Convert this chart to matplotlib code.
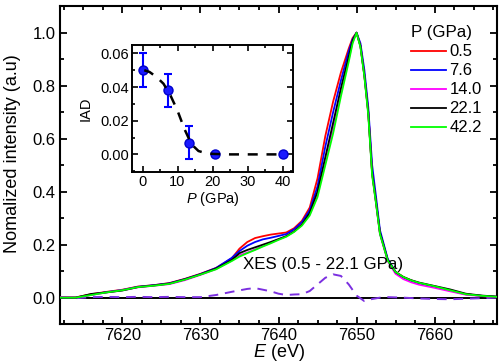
import matplotlib
matplotlib.use("Agg")
import matplotlib.pyplot as plt
from matplotlib.ticker import MultipleLocator, FormatStrFormatter

plt.rcParams['font.family'] = ['Liberation Sans', 'DejaVu Sans']
plt.rcParams['mathtext.fontset'] = 'custom'
plt.rcParams['mathtext.it'] = 'Liberation Sans:italic'
plt.rcParams['mathtext.rm'] = 'Liberation Sans'

# ---------------- data ----------------
energy = [7612, 7614, 7616, 7618, 7620, 7622, 7624, 7626, 7628, 7630, 7632, 7634,
          7635, 7636, 7637, 7638, 7639, 7640, 7641, 7642, 7643,
          7644, 7645, 7646, 7647, 7648, 7649, 7649.5, 7650,
          7650.5, 7651, 7651.5, 7652, 7652.5, 7653, 7654, 7655, 7656, 7657, 7658,
          7660, 7662, 7664, 7666, 7668]

pressures = ["0.5", "7.6", "14.0", "22.1", "42.2"]
colors = ["#ff0000", "#0000ff", "#ff00ff", "#000000", "#00ff00"]

int_05 = [0.000, 0.001, 0.013, 0.022, 0.030, 0.042, 0.047, 0.055, 0.071, 0.090, 0.112, 0.148,
          0.185, 0.210, 0.225, 0.232, 0.238, 0.242, 0.246, 0.262, 0.290,
          0.340, 0.450, 0.610, 0.740, 0.850, 0.940, 0.980, 1.000,
          0.950, 0.840, 0.700, 0.470, 0.360, 0.245, 0.142, 0.098, 0.078, 0.065, 0.055,
          0.042, 0.027, 0.013, 0.007, 0.003]
int_76 = [0.000, 0.000, 0.011, 0.021, 0.029, 0.041, 0.047, 0.054, 0.070, 0.089, 0.112, 0.150,
          0.176, 0.196, 0.210, 0.220, 0.226, 0.233, 0.240, 0.258, 0.285,
          0.330, 0.420, 0.570, 0.700, 0.820, 0.930, 0.975, 1.000,
          0.960, 0.860, 0.720, 0.500, 0.380, 0.255, 0.146, 0.097, 0.076, 0.063, 0.054,
          0.041, 0.027, 0.013, 0.007, 0.003]
int_140 = [0.002, 0.000, 0.010, 0.020, 0.028, 0.039, 0.045, 0.051, 0.066, 0.086, 0.108, 0.140,
           0.160, 0.170, 0.182, 0.195, 0.207, 0.220, 0.232, 0.250, 0.276,
           0.315, 0.390, 0.520, 0.640, 0.780, 0.900, 0.965, 1.000,
           0.950, 0.840, 0.700, 0.470, 0.355, 0.240, 0.138, 0.090, 0.070, 0.058, 0.049,
           0.037, 0.024, 0.011, 0.006, 0.002]
int_221 = [0.000, 0.000, 0.014, 0.020, 0.027, 0.040, 0.046, 0.053, 0.069, 0.088, 0.110, 0.142,
           0.168, 0.180, 0.190, 0.200, 0.210, 0.221, 0.232, 0.250, 0.276,
           0.320, 0.400, 0.530, 0.660, 0.790, 0.910, 0.970, 1.000,
           0.950, 0.840, 0.700, 0.470, 0.360, 0.245, 0.142, 0.096, 0.078, 0.066, 0.057,
           0.044, 0.031, 0.015, 0.008, 0.004]
int_422 = [0.000, 0.000, 0.010, 0.020, 0.028, 0.040, 0.045, 0.052, 0.068, 0.087, 0.107, 0.138,
           0.155, 0.168, 0.180, 0.193, 0.205, 0.218, 0.230, 0.248, 0.272,
           0.310, 0.380, 0.500, 0.620, 0.760, 0.890, 0.960, 1.000,
           0.945, 0.835, 0.690, 0.460, 0.355, 0.240, 0.140, 0.097, 0.078, 0.065, 0.056,
           0.043, 0.028, 0.013, 0.007, 0.003]
spectra = [int_05, int_76, int_140, int_221, int_422]

xes_energy = [7612, 7614, 7616, 7618, 7620, 7622, 7624, 7626, 7628, 7630, 7632, 7634,
              7636, 7637, 7638, 7639, 7640, 7641, 7642, 7643, 7644, 7645, 7646, 7647,
              7648, 7649, 7650, 7651, 7652, 7653, 7654, 7656, 7658, 7660, 7662, 7664,
              7666, 7668]
xes_diff = [0.000, -0.002, 0.002, 0.003, 0.002, 0.003, 0.002, 0.003, 0.002, 0.002, 0.010, 0.022,
            0.033, 0.036, 0.030, 0.024, 0.015, 0.010, 0.012, 0.013, 0.025, 0.050, 0.075, 0.088,
            0.082, 0.050, 0.008, -0.013, -0.005, 0.000, 0.002, 0.000, -0.003, -0.005, -0.006, -0.004,
            -0.002, 0.000]

iad_p = [0, 7.3, 13.2, 20.8, 40]
iad_val = [0.050, 0.038, 0.007, 0.000, 0.000]
iad_err = [0.010, 0.010, 0.010, 0.0, 0.0]
fit_p = [0.5, 2, 4, 6, 8, 10, 12, 14, 16, 18, 20, 25, 30, 35, 40]
fit_val = [0.050, 0.049, 0.046, 0.042, 0.035, 0.026, 0.015, 0.006, 0.002, 0.0008, 0.0003,
           0.0, 0.0, 0.0, 0.0]

# ---------------- figure ----------------
fig = plt.figure(figsize=(5.0, 3.63), dpi=100)
ax = fig.add_axes([0.12, 0.107, 0.874, 0.876])

ax.axhline(0, color="black", lw=1.4, zorder=1)
ax.plot(xes_energy, xes_diff, color="#7b2fe0", lw=1.4, ls=(0, (5, 3.5)), zorder=2)
handles = []
for vals, c, p in zip(spectra, colors, pressures):
    h, = ax.plot(energy, vals, color=c, lw=1.3, label=p, zorder=3)
    handles.append(h)

ax.set_xlim(7612, 7668)
ax.set_ylim(-0.1, 1.1)
ax.xaxis.set_major_locator(MultipleLocator(10))
ax.xaxis.set_minor_locator(MultipleLocator(2.5))
ax.yaxis.set_major_locator(MultipleLocator(0.2))
ax.yaxis.set_minor_locator(MultipleLocator(0.1))
ax.yaxis.set_major_formatter(FormatStrFormatter('%.1f'))
ax.tick_params(which='both', direction='in', top=True, right=True, width=1.3)
ax.tick_params(which='major', length=5, labelsize=12, pad=3)
ax.tick_params(which='minor', length=3)
for s in ax.spines.values():
    s.set_linewidth(1.5)

ax.set_xlabel(r"$E$ (eV)", fontsize=13, labelpad=-1)
ax.set_ylabel("Nomalized intensity (a.u)", fontsize=13)
ax.yaxis.set_label_coords(-0.09, 0.535)
ax.text(7635.4, 0.125, "XES (0.5 - 22.1 GPa)", fontsize=12.2, ha='left', va='center')

leg = ax.legend(handles=handles, title="P (GPa)", loc='upper left',
                bbox_to_anchor=(0.822, 0.93), bbox_transform=fig.transFigure,
                frameon=False, fontsize=12, title_fontsize=12.2,
                handlelength=2.1, handletextpad=0.2, labelspacing=0.24,
                borderpad=0.0, borderaxespad=0.0, alignment='left')

# ---------------- inset ----------------
ins = fig.add_axes([0.264, 0.526, 0.322, 0.35])
ins.errorbar(iad_p[:3], iad_val[:3], yerr=iad_err[:3], fmt='none', ecolor='#0000ff',
             elinewidth=1.5, capsize=3, capthick=1.5, zorder=2)
ins.plot(iad_p, iad_val, 'o', color='#1a1aff', mec='#0000cc', ms=6.5, zorder=3)
ins.plot(fit_p, fit_val, color='black', lw=1.8, ls=(0, (4, 3.5)), zorder=4)
ins.set_xlim(-3, 43)
ins.set_ylim(-0.0105, 0.065)
ins.xaxis.set_major_locator(MultipleLocator(10))
ins.xaxis.set_minor_locator(MultipleLocator(5))
ins.yaxis.set_major_locator(MultipleLocator(0.02))
ins.yaxis.set_minor_locator(MultipleLocator(0.01))
ins.yaxis.set_major_formatter(FormatStrFormatter('%.2f'))
ins.tick_params(which='both', direction='in', top=True, right=True, width=1.2)
ins.tick_params(which='major', length=4, labelsize=10.5, pad=2)
ins.tick_params(which='minor', length=2.5)
for s in ins.spines.values():
    s.set_linewidth(1.4)
ins.set_xlabel(r"$P$ (GPa)", fontsize=10.5, labelpad=1)
ins.set_ylabel("IAD", fontsize=10.5, labelpad=6)

fig.savefig("out.png", dpi=100)
